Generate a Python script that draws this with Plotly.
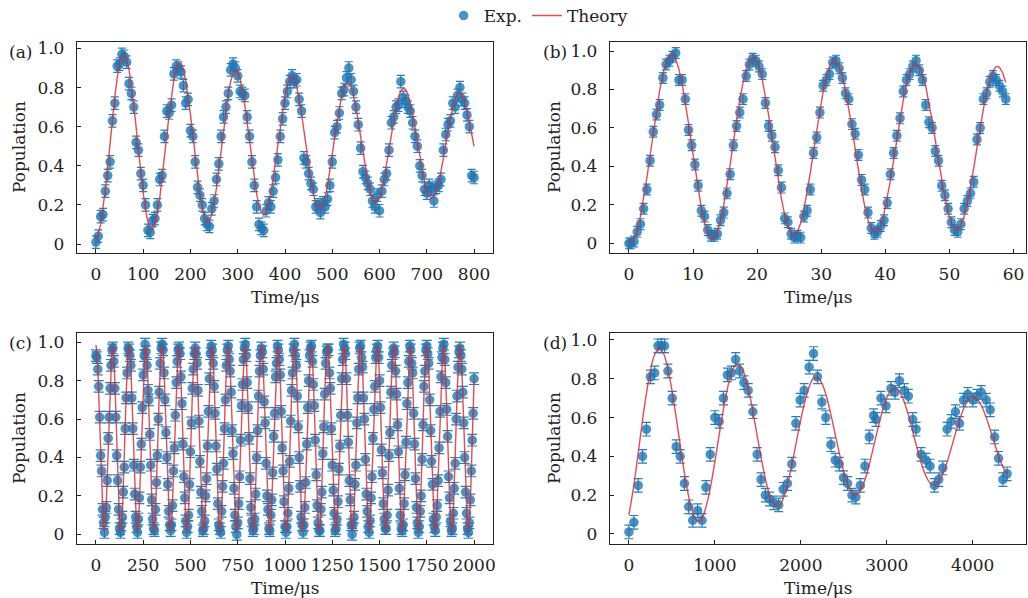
import plotly.graph_objects as go

# ---------------- data ----------------
# (a)
t_a = list(range(0, 805, 5))
exp_a = [.01,.04,.14,.15,.27,.35,.42,.63,.72,.91,
         .92,.97,.96,.93,.82,.77,.70,.52,.48,.36,
         .30,.20,.07,.06,.12,.13,.20,.33,.35,.55,
         .68,.67,.71,.87,.91,.90,.88,.81,.72,.74,
         .58,.55,.42,.29,.25,.20,.13,.10,.09,.18,
         .22,.33,.41,.55,.65,.70,.77,.89,.92,.90,
         .86,.78,.77,.76,.65,.55,.42,.30,.19,.10,
         .08,.07,.17,.21,.19,.27,.34,.43,.55,.64,
         .72,.78,.83,.86,.83,.84,.74,.68,.44,.42,
         .36,.31,.28,.19,.20,.16,.21,.19,.23,.30,
         .42,.57,.60,.67,.77,.79,.85,.90,.84,.78,
         .70,.61,.49,.37,.34,.31,.28,.22,.19,.25,
         .17,.27,.33,.36,.48,.62,.65,.70,.71,.83,
         .75,.73,.70,.68,.62,.55,.50,.40,.35,.28,
         .26,.30,.28,.22,.29,.30,.33,.48,.56,.61,
         .63,.72,.70,.76,.80,.74,.72,.66,.60,.35,
         .34]
theory_a = [.030,.049,.100,.178,.279,.396,.520,.642,.754,.848,
            .918,.959,.968,.945,.892,.813,.713,.600,.481,.366,
            .261,.175,.112,.078,.075,.101,.156,.235,.333,.442,
            .555,.664,.762,.841,.896,.924,.924,.893,.837,.758,
            .663,.557,.450,.347,.256,.184,.136,.113,.119,.151,
            .209,.286,.380,.481,.584,.681,.764,.830,.873,.890,
            .880,.845,.787,.709,.619,.522,.424,.333,.256,.196,
            .160,.147,.161,.198,.256,.333,.420,.514,.606,.692,
            .763,.816,.849,.856,.840,.801,.741,.667,.581,.492,
            .404,.325,.258,.211,.184,.180,.200,.240,.299,.373,
            .456,.541,.624,.698,.758,.801,.823,.823,.801,.759,
            .700,.628,.549,.467,.390,.321,.266,.228,.211,.214,
            .238,.280,.339,.409,.485,.563,.636,.700,.750,.784,
            .797,.790,.764,.721,.663,.595,.522,.448,.379,.320,
            .274,.245,.235,.244,.272,.316,.374,.440,.511,.580,
            .645,.700,.741,.765,.772,.760,.731,.687,.630,.566,
            .499]
err_a = 0.032

# (b)
t_b = [0] + [round(0.3 + 0.5 * i, 2) for i in range(118)]
exp_b = [.00,
         .00,.01,.06,.10,.18,.28,.43,.58,.67,.72,
         .86,.93,.95,.97,.99,.85,.85,.75,.59,.51,
         .41,.30,.17,.14,.07,.04,.04,.05,.12,.16,
         .26,.36,.51,.61,.68,.75,.87,.93,.96,.95,
         .92,.88,.73,.61,.56,.50,.38,.29,.13,.11,
         .05,.03,.04,.03,.14,.17,.28,.47,.55,.68,
         .82,.85,.88,.94,.95,.91,.86,.78,.75,.62,
         .57,.46,.33,.28,.16,.08,.05,.06,.09,.12,
         .21,.36,.47,.56,.65,.79,.85,.88,.92,.95,
         .90,.85,.72,.63,.60,.48,.43,.30,.25,.18,
         .11,.07,.06,.10,.18,.22,.26,.32,.54,.60,
         .75,.78,.84,.87,.85,.82,.79,.75]
theory_b = [.010,
            .010,.026,.070,.140,.232,.340,.457,.577,.692,.795,
            .879,.941,.976,.981,.958,.906,.830,.735,.625,.508,
            .391,.281,.183,.107,.053,.027,.031,.062,.120,.201,
            .299,.411,.526,.640,.746,.835,.905,.950,.967,.956,
            .917,.853,.768,.667,.556,.441,.331,.231,.148,.086,
            .050,.041,.060,.106,.175,.264,.367,.478,.590,.696,
            .790,.866,.920,.948,.949,.922,.870,.796,.704,.600,
            .490,.381,.279,.191,.122,.076,.057,.064,.097,.155,
            .234,.328,.433,.542,.648,.744,.825,.887,.924,.937,
            .922,.881,.818,.736,.640,.535,.428,.326,.235,.160,
            .107,.077,.072,.095,.140,.209,.295,.392,.496,.600,
            .698,.783,.851,.898,.920,.916,.887,.836]
err_b = 0.028

# (c)
t_c = list(range(0, 2005, 5))
exp_c = [.93,.92,.86,.77,.61,.41,.33,.13,.06,.01,.09,.14,.28,.50,.61,.76,.88,.96,.97,.90,.76,.61,.41,.28,.13,.03,.01,.05,.09,.22,.35,.55,.71,.84,.97,
         .96,.93,.88,.71,.55,.36,.21,.09,.04,.01,.08,.19,.35,.47,.66,.83,.93,.99,.95,.88,.75,.70,.52,.36,.18,.08,.03,.02,.13,.27,.41,.60,.74,.89,.97,
         .99,.96,.84,.70,.53,.40,.26,.12,.05,.02,.05,.15,.33,.45,.62,.79,.90,.96,.97,.94,.82,.68,.47,.30,.19,.07,.01,.04,.10,.26,.43,.58,.76,.86,.94,
         .97,.94,.89,.75,.59,.38,.22,.12,.02,.03,.07,.20,.29,.46,.64,.81,.94,.98,.96,.89,.77,.63,.46,.34,.16,.05,.03,.01,.12,.25,.37,.55,.70,.88,.96,
         .98,.91,.85,.74,.54,.42,.24,.10,.04,.00,.06,.16,.30,.49,.67,.78,.91,.97,.99,.93,.79,.66,.50,.29,.14,.07,.02,.03,.08,.21,.40,.54,.72,.85,.93,
         .97,.95,.86,.69,.58,.37,.20,.13,.03,.02,.10,.18,.32,.51,.63,.82,.89,.98,.96,.91,.83,.64,.45,.33,.17,.04,.01,.04,.11,.24,.38,.59,.75,.84,.96,
         .99,.93,.88,.72,.56,.40,.25,.09,.05,.01,.05,.14,.27,.47,.66,.80,.93,.97,.98,.90,.78,.67,.49,.31,.15,.06,.02,.02,.13,.22,.42,.56,.73,.89,.95,
         .96,.96,.84,.76,.55,.36,.23,.11,.02,.03,.08,.17,.34,.46,.62,.81,.91,.99,.97,.94,.81,.62,.48,.28,.18,.05,.00,.05,.09,.26,.36,.58,.71,.86,.97,
         .98,.92,.87,.71,.60,.39,.21,.12,.04,.01,.07,.19,.30,.50,.65,.77,.92,.96,.98,.92,.80,.66,.44,.32,.16,.08,.03,.03,.10,.23,.41,.53,.74,.88,.94,
         .97,.95,.85,.73,.57,.43,.24,.10,.03,.02,.05,.16,.31,.48,.68,.79,.90,.98,.96,.89,.84,.63,.47,.29,.14,.06,.01,.04,.12,.20,.39,.57,.77,.85,.96,
         .98,.94,.89,.70,.54,.38,.26,.08,.04,.02,.09,.15,.28,.45,.64,.82,.92,.97,.99,.91,.79,.65,.51,.30,.19,.07,.02,.03,.11,.24,.37,.60,.72,.87,.95,
         .97,.93,.86,.74,.58,.40,.22,.11,.03,.01,.06,.18,.33,.49,.63,.81]
theory_c = [.985,.954,.865,.730,.565,.392,.233,.108,.032,.017,.063,.165,.309,.478,.650,.802,.916,.977,.977,.916,.802,.650,.478,.309,.165,.063,.017,.032,.108,.233,.392,.565,.730,.865,.954,
            .985,.954,.865,.730,.565,.392,.233,.108,.032,.017,.063,.165,.309,.478,.650,.802,.916,.977,.977,.916,.802,.650,.478,.309,.165,.063,.017,.032,.108,.233,.392,.565,.730,.865,.954,
            .985,.954,.865,.730,.565,.392,.233,.108,.032,.017,.063,.165,.309,.478,.650,.802,.916,.977,.977,.916,.802,.650,.478,.309,.165,.063,.017,.032,.108,.233,.392,.565,.730,.865,.954,
            .985,.954,.865,.730,.565,.392,.233,.108,.032,.017,.063,.165,.309,.478,.650,.802,.916,.977,.977,.916,.802,.650,.478,.309,.165,.063,.017,.032,.108,.233,.392,.565,.730,.865,.954,
            .985,.954,.865,.730,.565,.392,.233,.108,.032,.017,.063,.165,.309,.478,.650,.802,.916,.977,.977,.916,.802,.650,.478,.309,.165,.063,.017,.032,.108,.233,.392,.565,.730,.865,.954,
            .985,.954,.865,.730,.565,.392,.233,.108,.032,.017,.063,.165,.309,.478,.650,.802,.916,.977,.977,.916,.802,.650,.478,.309,.165,.063,.017,.032,.108,.233,.392,.565,.730,.865,.954,
            .985,.954,.865,.730,.565,.392,.233,.108,.032,.017,.063,.165,.309,.478,.650,.802,.916,.977,.977,.916,.802,.650,.478,.309,.165,.063,.017,.032,.108,.233,.392,.565,.730,.865,.954,
            .985,.954,.865,.730,.565,.392,.233,.108,.032,.017,.063,.165,.309,.478,.650,.802,.916,.977,.977,.916,.802,.650,.478,.309,.165,.063,.017,.032,.108,.233,.392,.565,.730,.865,.954,
            .985,.954,.865,.730,.565,.392,.233,.108,.032,.017,.063,.165,.309,.478,.650,.802,.916,.977,.977,.916,.802,.650,.478,.309,.165,.063,.017,.032,.108,.233,.392,.565,.730,.865,.954,
            .985,.954,.865,.730,.565,.392,.233,.108,.032,.017,.063,.165,.309,.478,.650,.802,.916,.977,.977,.916,.802,.650,.478,.309,.165,.063,.017,.032,.108,.233,.392,.565,.730,.865,.954,
            .985,.954,.865,.730,.565,.392,.233,.108,.032,.017,.063,.165,.309,.478,.650,.802,.916,.977,.977,.916,.802,.650,.478,.309,.165,.063,.017,.032,.108,.233,.392,.565,.730,.865,.954,
            .985,.954,.865,.730,.565,.392,.233,.108,.032,.017,.063,.165,.309,.478,.650,.802]
err_c = 0.03

# (d)
t_d = [0,58,108,158,204,250,300,338,377,415,
       454,504,550,596,646,696,742,800,850,896,
       946,1000,1050,1100,1146,1192,1242,1288,1338,1388,
       1442,1492,1538,1588,1635,1685,1742,1794,1845,1895,
       1942,1992,2039,2097,2148,2194,2245,2291,2350,2400,
       2447,2497,2544,2595,2641,2692,2746,2797,2847,2874,
       2933,2991,3049,3096,3147,3205,3251,3302,3341,3399,
       3457,3504,3555,3605,3652,3702,3749,3799,3846,3893,
       3943,4001,4048,4099,4157,4204,4255,4301,4351,4400]
exp_d = [.01,.06,.25,.40,.54,.81,.83,.97,.97,.97,
         .84,.70,.45,.40,.26,.14,.07,.12,.07,.24,
         .41,.60,.58,.70,.82,.83,.90,.84,.78,.74,
         .63,.41,.28,.20,.18,.16,.15,.23,.26,.36,
         .57,.69,.74,.86,.93,.81,.68,.60,.46,.38,
         .36,.29,.26,.20,.19,.25,.35,.50,.61,.59,
         .70,.66,.75,.73,.79,.74,.71,.59,.54,.41,
         .38,.35,.25,.28,.34,.54,.58,.63,.57,.69,
         .72,.69,.71,.73,.69,.64,.50,.39,.28,.31]
t_d_theory = list(range(0, 4405, 50))
theory_d = [.098,.230,.389,.558,.714,.841,.925,.956,.933,.859,
            .743,.601,.448,.303,.183,.101,.066,.081,.143,.244,
            .372,.511,.644,.757,.837,.874,.866,.815,.727,.613,
            .487,.365,.260,.183,.144,.145,.187,.263,.365,.478,
            .590,.688,.762,.803,.805,.772,.706,.616,.514,.412,
            .320,.250,.209,.202,.228,.284,.364,.456,.550,.635,
            .701,.742,.753,.732,.684,.615,.532,.446,.367,.304,
            .264,.251,.266,.307,.368,.442,.520,.593,.652,.692,
            .708,.697,.662,.609,.543,.472,.404,.347,.309]
err_d = 0.035

panel_labels = ["(a)", "(b)", "(c)", "(d)"]
x_ticks = [list(range(0, 801, 100)), list(range(0, 61, 10)),
           list(range(0, 2001, 250)), list(range(0, 4001, 1000))]
x_ranges = [[-40, 840], [-2.95, 61.95], [-100, 2100], [-220, 4620]]
y_ranges = [[-0.046, 1.033], [-0.05, 1.047], [-0.05, 1.048], [-0.052, 1.036]]
y_tickvals = [0, 0.2, 0.4, 0.6, 0.8, 1.0]
y_ticktext = ["0", "0.2", "0.4", "0.6", "0.8", "1.0"]

# ---------------- figure ----------------
W, H = 1028, 598
FONT = "DejaVu Serif, Liberation Serif, serif"
FS = 17
TXT = "#222"
BLUE = "rgba(31,119,180,0.80)"
EBLUE = "rgba(31,119,180,0.95)"
RED = "rgba(220,45,55,0.85)"
cap_w = [4, 4, 5, 4.5]
marker_size = 9.5

# axes boxes in pixels: (left, right, top, bottom)
boxes = [(77, 493, 42, 253), (610, 1026, 42, 253),
         (77, 493, 333, 544), (610, 1026, 333, 544)]

fig = go.Figure()
panels = [(t_a, exp_a, err_a, t_a, theory_a),
          (t_b, exp_b, err_b, t_b, theory_b),
          (t_c, exp_c, err_c, t_c, theory_c),
          (t_d, exp_d, err_d, t_d_theory, theory_d)]

for i, (tx, ey, er, tt, ty) in enumerate(panels):
    xa = "x" if i == 0 else f"x{i+1}"
    ya = "y" if i == 0 else f"y{i+1}"
    fig.add_trace(go.Scatter(
        x=tx, y=ey, mode="markers", name="Exp.", legendgroup="exp",
        showlegend=(i == 0), xaxis=xa, yaxis=ya,
        marker=dict(size=marker_size, color=BLUE, line=dict(width=0)),
        error_y=dict(type="constant", value=er, color=EBLUE, thickness=1.2, width=cap_w[i]),
    ))
for i, (tx, ey, er, tt, ty) in enumerate(panels):
    xa = "x" if i == 0 else f"x{i+1}"
    ya = "y" if i == 0 else f"y{i+1}"
    fig.add_trace(go.Scatter(
        x=tt, y=ty, mode="lines", name="Theory", legendgroup="th",
        showlegend=(i == 0), xaxis=xa, yaxis=ya,
        line=dict(color=RED, width=1.4, shape="spline" if i == 3 else "linear"),
    ))

layout = dict(
    width=W, height=H, margin=dict(l=0, r=0, t=0, b=0, autoexpand=False),
    paper_bgcolor="white", plot_bgcolor="white",
    font=dict(family=FONT, size=FS, color=TXT),
    showlegend=True,
    legend=dict(orientation="h", x=0.524, xanchor="center", y=1 - 16 / H, yanchor="middle",
                font=dict(family=FONT, size=FS, color=TXT), bgcolor="rgba(0,0,0,0)",
                itemwidth=30, tracegroupgap=0),
)
annotations = []
for i, (l, r, t, b) in enumerate(boxes):
    sfx = "" if i == 0 else str(i + 1)
    layout["xaxis" + sfx] = dict(
        domain=[l / W, r / W], anchor="y" + sfx, range=x_ranges[i],
        tickvals=x_ticks[i], ticks="inside", ticklen=4, tickwidth=1, tickcolor=TXT,
        showline=True, linecolor=TXT, linewidth=1.3, mirror=True,
        showgrid=False, zeroline=False, ticklabelstandoff=5,
        tickfont=dict(family=FONT, size=FS, color=TXT),
    )
    layout["yaxis" + sfx] = dict(
        domain=[1 - b / H, 1 - t / H], anchor="x" + sfx, range=y_ranges[i],
        tickvals=y_tickvals, ticktext=y_ticktext, ticks="inside", ticklen=4, tickwidth=1,
        tickcolor=TXT, showline=True, linecolor=TXT, linewidth=1.3, mirror=True,
        showgrid=False, zeroline=False, ticklabelstandoff=8,
        tickfont=dict(family=FONT, size=FS, color=TXT),
    )
    cx = (l + r) / 2
    cy = (t + b) / 2
    lab_x = 20 if l < 300 else 555
    annotations.append(dict(text=panel_labels[i], x=lab_x / W, y=1 - (t + 10) / H,
                            xref="paper", yref="paper", showarrow=False,
                            xanchor="center", yanchor="middle",
                            font=dict(family=FONT, size=FS, color=TXT)))
    annotations.append(dict(text="Population", x=(lab_x - 1.5) / W, y=1 - cy / H,
                            xref="paper", yref="paper", showarrow=False, textangle=-90,
                            xanchor="center", yanchor="middle",
                            font=dict(family=FONT, size=FS, color=TXT)))
    annotations.append(dict(text="Time/μs", x=cx / W, y=1 - (b + 44) / H,
                            xref="paper", yref="paper", showarrow=False,
                            xanchor="center", yanchor="middle",
                            font=dict(family=FONT, size=FS, color=TXT)))
layout["annotations"] = annotations
fig.update_layout(**layout)
fig.write_html("out.html", config={"displayModeBar": False},
               post_script="document.body.style.margin='0px';document.body.style.overflow='hidden';")
